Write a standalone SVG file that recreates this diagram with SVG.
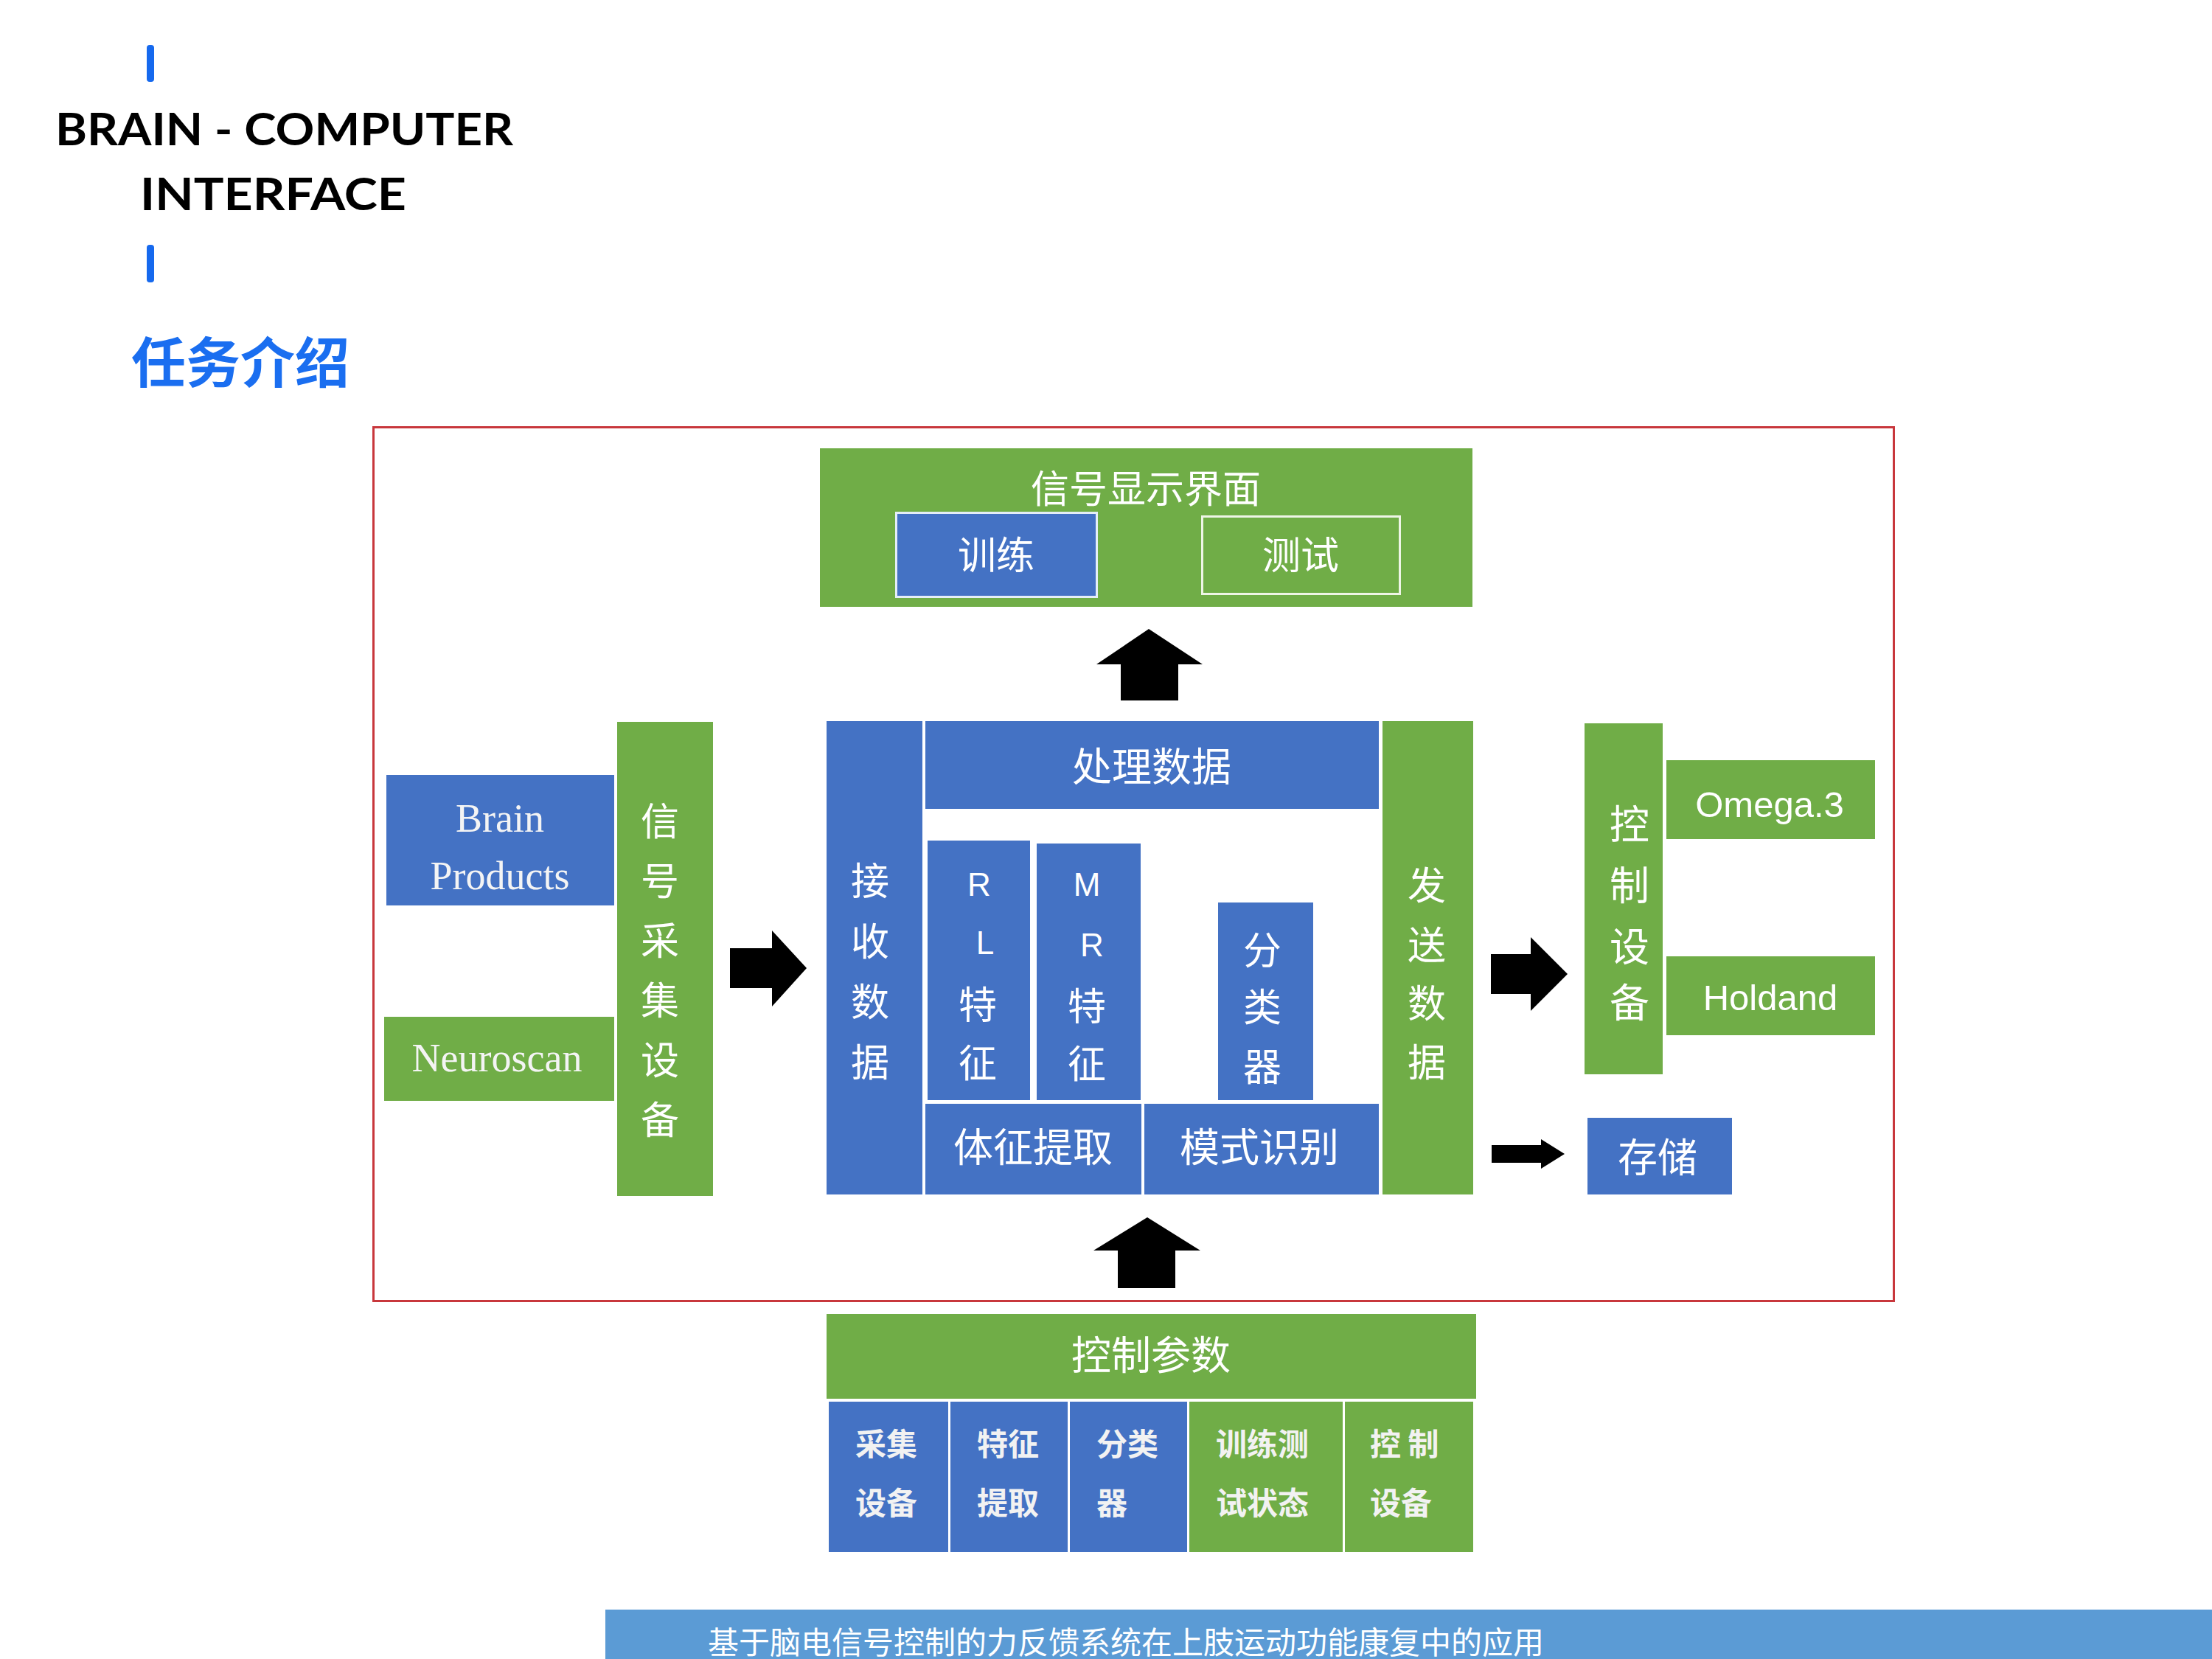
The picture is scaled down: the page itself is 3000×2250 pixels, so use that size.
<svg xmlns="http://www.w3.org/2000/svg" width="3000" height="2250" viewBox="0 0 3000 2250">
<defs>
<style>
.g{fill:#70ad47}
.b{fill:#4472c4}
.cj{font-family:"Noto Sans CJK SC","Noto Sans",sans-serif;fill:#ffffff}
.t54{font-size:54px;text-anchor:middle}
.t52{font-size:52px;text-anchor:middle}
.sm{font-size:42px;font-weight:bold;fill:#f2f2f2}
.lat{font-family:"Liberation Sans",Arial,sans-serif;fill:#ffffff;text-anchor:middle}
.ser{font-family:"Liberation Serif","Times New Roman",serif;font-size:54px;fill:#f4f4f4;text-anchor:middle}
.arrow{fill:#000000}
</style>
</defs>
<rect x="0" y="0" width="3000" height="2250" fill="#ffffff"/>

<g id="header">
<rect x="199" y="61" width="10" height="50" rx="4" fill="#1669ee"/>
<text x="75" y="197" font-family="Lato,'Open Sans',sans-serif" font-weight="bold" font-size="62" fill="#000" textLength="621" lengthAdjust="spacingAndGlyphs">BRAIN - COMPUTER</text>
<text x="190" y="285" font-family="Lato,'Open Sans',sans-serif" font-weight="bold" font-size="62" fill="#000" textLength="361" lengthAdjust="spacingAndGlyphs">INTERFACE</text>
<rect x="199" y="332" width="10" height="51" rx="4" fill="#1669ee"/>
<text x="178" y="519" font-family="'Noto Sans CJK SC',sans-serif" font-weight="bold" font-size="74" fill="#1a6ef0">任务介绍</text>
</g>

<rect id="frame" x="506.5" y="579.5" width="2062" height="1185" fill="none" stroke="#c8373c" stroke-width="3"/>

<g id="display">
<rect class="g" x="1112" y="608" width="885" height="215"/>
<text class="cj t52" x="1554" y="682">信号显示界面</text>
</g>
<g id="train">
<rect class="b" x="1215.5" y="695.5" width="272" height="114" stroke="#e4eef8" stroke-width="3"/>
<text class="cj t52" x="1351" y="772">训练</text>
</g>
<g id="test">
<rect class="g" x="1630.5" y="700.5" width="268" height="105" stroke="#eef5e6" stroke-width="3"/>
<text class="cj t52" x="1764" y="772">测试</text>
</g>

<g id="brainproducts">
<rect class="b" x="524" y="1051" width="309" height="177"/>
<text class="ser" x="678" y="1128">Brain</text>
<text class="ser" x="678" y="1206">Products</text>
</g>
<g id="neuroscan">
<rect class="g" x="521" y="1379" width="312" height="114"/>
<text class="ser" x="674" y="1453" fill="#f2f2dc">Neuroscan</text>
</g>
<g id="acquire">
<rect class="g" x="837" y="979" width="130" height="643"/>
<text class="cj t52" x="895" y="1133">信</text>
<text class="cj t52" x="895" y="1214">号</text>
<text class="cj t52" x="895" y="1295">采</text>
<text class="cj t52" x="895" y="1376">集</text>
<text class="cj t52" x="895" y="1457">设</text>
<text class="cj t52" x="895" y="1538">备</text>
</g>

<g id="receive">
<rect class="b" x="1121" y="978" width="130" height="642"/>
<text class="cj t52" x="1180" y="1214">接</text>
<text class="cj t52" x="1180" y="1296">收</text>
<text class="cj t52" x="1180" y="1378">数</text>
<text class="cj t52" x="1180" y="1460">据</text>
</g>
<g id="process">
<rect class="b" x="1255" y="978" width="615" height="119"/>
<text class="cj t54" x="1562" y="1060">处理数据</text>
</g>
<g id="rl">
<rect class="b" x="1258" y="1140" width="139" height="352"/>
<text class="lat" x="1328" y="1215" font-size="44">R</text>
<text class="lat" x="1336" y="1294" font-size="44">L</text>
<text class="cj t52" x="1326" y="1382">特</text>
<text class="cj t52" x="1326" y="1461">征</text>
</g>
<g id="mr">
<rect class="b" x="1406" y="1144" width="141" height="348"/>
<text class="lat" x="1474" y="1215" font-size="44">M</text>
<text class="lat" x="1481" y="1297" font-size="44">R</text>
<text class="cj t52" x="1474" y="1384">特</text>
<text class="cj t52" x="1474" y="1462">征</text>
</g>
<g id="classifier">
<rect class="b" x="1652" y="1224" width="129" height="268"/>
<text class="cj t52" x="1712" y="1308">分</text>
<text class="cj t52" x="1712" y="1385">类</text>
<text class="cj t52" x="1712" y="1466">器</text>
</g>
<g id="feature">
<rect class="b" x="1255" y="1497" width="293" height="123"/>
<text class="cj t54" x="1401" y="1576">体征提取</text>
</g>
<g id="pattern">
<rect class="b" x="1552" y="1497" width="318" height="123"/>
<text class="cj t54" x="1708" y="1576">模式识别</text>
</g>
<g id="send">
<rect class="g" x="1875" y="978" width="123" height="642"/>
<text class="cj t52" x="1935" y="1220">发</text>
<text class="cj t52" x="1935" y="1301">送</text>
<text class="cj t52" x="1935" y="1380">数</text>
<text class="cj t52" x="1935" y="1460">据</text>
</g>

<g id="control">
<rect class="g" x="2149" y="981" width="106" height="476"/>
<text class="cj t54" x="2210" y="1138">控</text>
<text class="cj t54" x="2210" y="1221">制</text>
<text class="cj t54" x="2210" y="1304">设</text>
<text class="cj t54" x="2210" y="1380">备</text>
</g>
<g id="omega">
<rect class="g" x="2260" y="1031" width="283" height="107"/>
<text class="lat" x="2400" y="1108" font-size="49" fill="#f2f2e6">Omega.3</text>
</g>
<g id="holdand">
<rect class="g" x="2260" y="1297" width="283" height="107"/>
<text class="lat" x="2401" y="1370" font-size="49" fill="#f2f2e6">Holdand</text>
</g>
<g id="storage">
<rect class="b" x="2153" y="1516" width="196" height="104"/>
<text class="cj t54" x="2248" y="1590">存储</text>
</g>

<g id="params">
<rect class="g" x="1121" y="1782" width="881" height="115"/>
<text class="cj t54" x="1561" y="1858">控制参数</text>
</g>
<g id="p1">
<rect class="b" x="1124" y="1901" width="162" height="204"/>
<text class="cj sm" x="1160" y="1974">采集</text>
<text class="cj sm" x="1160" y="2054">设备</text>
</g>
<g id="p2">
<rect class="b" x="1289" y="1901" width="159" height="204"/>
<text class="cj sm" x="1325" y="1974">特征</text>
<text class="cj sm" x="1325" y="2054">提取</text>
</g>
<g id="p3">
<rect class="b" x="1451" y="1901" width="159" height="204"/>
<text class="cj sm" x="1487" y="1974">分类</text>
<text class="cj sm" x="1487" y="2054">器</text>
</g>
<g id="p4">
<rect class="g" x="1613" y="1901" width="208" height="204"/>
<text class="cj sm" x="1649" y="1974">训练测</text>
<text class="cj sm" x="1649" y="2054">试状态</text>
</g>
<g id="p5">
<rect class="g" x="1824" y="1901" width="174" height="204"/>
<text class="cj sm" x="1858" y="1974">控 制</text>
<text class="cj sm" x="1858" y="2054">设备</text>
</g>

<g id="connectors">
<path class="arrow" d="M1558,853 L1631,901 L1598,901 L1598,950 L1520,950 L1520,901 L1487,901 Z"/>
<path class="arrow" d="M1556,1651 L1628,1696 L1594,1696 L1594,1747 L1516,1747 L1516,1696 L1483,1696 Z"/>
<path class="arrow" d="M1094,1313 L1047,1365 L1047,1340 L990,1340 L990,1286 L1047,1286 L1047,1262 Z"/>
<path class="arrow" d="M2126,1321 L2076,1371 L2076,1348 L2022,1348 L2022,1294 L2076,1294 L2076,1271 Z"/>
<path class="arrow" d="M2122,1565 L2090,1585 L2090,1577 L2023,1577 L2023,1553 L2090,1553 L2090,1545 Z"/>
</g>

<g id="footer">
<rect x="821" y="2183" width="2179" height="67" fill="#5b9bd5"/>
<text class="cj" x="1527" y="2243" font-size="42" text-anchor="middle">基于脑电信号控制的力反馈系统在上肢运动功能康复中的应用</text>
</g>
</svg>
